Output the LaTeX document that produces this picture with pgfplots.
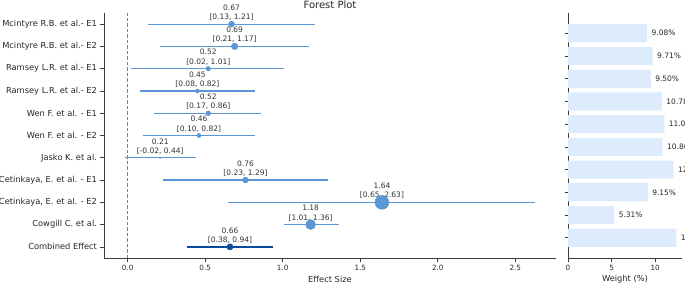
\documentclass[border=0pt]{standalone}
\usepackage{fontspec}
\setmainfont{DejaVu Sans}
\usepackage{pgfplots}
\usepackage{pgfplotstable}
\pgfplotsset{compat=1.18}
\definecolor{cl}{RGB}{91,151,214}
\definecolor{cd}{RGB}{10,74,154}
\definecolor{cb}{RGB}{221,236,252}
\definecolor{sp}{RGB}{60,60,60}

\pgfplotstableread{
y w
9 9.08
8 9.71
7 9.50
6 10.78
5 11.05
4 10.86
3 12.13
2 9.15
1 5.31
0 12.43
}\weights

\newcommand{\lab}[3]{\node[anchor=south, inner sep=0pt, align=center, yshift=3.3pt,
  font=\fontsize{7.5}{9.2}\selectfont, text=black!80] at (axis cs:#1,#2) {#3};}

\begin{document}
\begin{tikzpicture}
\pgfplotsset{
  common/.style={
    scale only axis,
    /pgf/number format/assume math mode=true,
    axis x line*=bottom, axis y line*=left,
    axis line style={sp, line width=0.7pt},
    tick style={sp, line width=0.7pt},
    tick align=outside,
    major tick length=3.5pt,
    xticklabel style={font=\fontsize{7.2}{8}\selectfont, text=black!85},
    yticklabel style={font=\fontsize{8.3}{10}\selectfont, text=black!85},
    every axis x label/.style={at={(axis description cs:0.5,0)}, anchor=center, yshift=-21pt, font=\fontsize{8.3}{10}\selectfont, text=black!85},
    every axis title/.style={at={(axis description cs:0.5,1)}, anchor=base, yshift=4.5pt, font=\fontsize{10}{12}\selectfont, text=black!85},
  }
}
% ---------------- left: forest plot ----------------
\begin{axis}[common,
  at={(0pt,0pt)}, anchor=south west,
  width=452pt, height=245pt,
  xmin=-0.1525, xmax=2.7625, ymin=-0.5, ymax=10.5,
  xtick={0,0.5,1,1.5,2,2.5},
  xticklabel style={/pgf/number format/.cd, fixed, fixed zerofill, precision=1},
  ytick={0,1,2,3,4,5,6,7,8,9,10},
  yticklabels={Combined Effect, Cowgill C. et al., {Cetinkaya, E. et al. - E2}, {Cetinkaya, E. et al. - E1}, Jasko K. et al., Wen F. et al. - E2, Wen F. et al. - E1, Ramsey L.R. et al.- E2, Ramsey L.R. et al.- E1, Mcintyre R.B. et al.- E2, Mcintyre R.B. et al.- E1},
  xlabel={Effect Size},
  title={Forest Plot},
  clip=false,
]
\addplot[gray, line width=0.8pt, dash pattern=on 3.5pt off 2pt] coordinates {(0,-0.5) (0,10.5)};
\addplot[cl, line width=1.2pt] coordinates {(0.13,10) (1.21,10)};
\addplot[cl, line width=1.2pt] coordinates {(0.21,9) (1.17,9)};
\addplot[cl, line width=1.2pt] coordinates {(0.02,8) (1.01,8)};
\addplot[cl, line width=1.2pt] coordinates {(0.08,7) (0.82,7)};
\addplot[cl, line width=1.2pt] coordinates {(0.17,6) (0.86,6)};
\addplot[cl, line width=1.2pt] coordinates {(0.10,5) (0.82,5)};
\addplot[cl, line width=1.2pt] coordinates {(-0.02,4) (0.44,4)};
\addplot[cl, line width=1.2pt] coordinates {(0.23,3) (1.29,3)};
\addplot[cl, line width=1.2pt] coordinates {(0.65,2) (2.63,2)};
\addplot[cl, line width=1.2pt] coordinates {(1.01,1) (1.36,1)};
\addplot[cd, line width=2pt] coordinates {(0.38,0) (0.94,0)};
\lab{0.67}{10}{0.67\\{}[0.13, 1.21]}
\lab{0.69}{9}{0.69\\{}[0.21, 1.17]}
\lab{0.52}{8}{0.52\\{}[0.02, 1.01]}
\lab{0.45}{7}{0.45\\{}[0.08, 0.82]}
\lab{0.52}{6}{0.52\\{}[0.17, 0.86]}
\lab{0.46}{5}{0.46\\{}[0.10, 0.82]}
\lab{0.21}{4}{0.21\\{}[-0.02, 0.44]}
\lab{0.76}{3}{0.76\\{}[0.23, 1.29]}
\lab{1.64}{2}{1.64\\{}[0.65, 2.63]}
\lab{1.18}{1}{1.18\\{}[1.01, 1.36]}
\lab{0.66}{0}{0.66\\{}[0.38, 0.94]}
\end{axis}
% markers on top of the labels
\begin{axis}[
  at={(0pt,0pt)}, anchor=south west, scale only axis,
  width=452pt, height=245pt, hide axis,
  xmin=-0.1525, xmax=2.7625, ymin=-0.5, ymax=10.5, clip=false,
]
\addplot[only marks, mark=*, cl, mark size=3.0pt] coordinates {(0.67,10)};
\addplot[only marks, mark=*, cl, mark size=3.3pt] coordinates {(0.69,9)};
\addplot[only marks, mark=*, cl, mark size=2.3pt] coordinates {(0.52,8)};
\addplot[only marks, mark=*, cl, mark size=2.0pt] coordinates {(0.45,7)};
\addplot[only marks, mark=*, cl, mark size=2.4pt] coordinates {(0.52,6)};
\addplot[only marks, mark=*, cl, mark size=2.1pt] coordinates {(0.46,5)};
\addplot[only marks, mark=*, cl, mark size=0.7pt] coordinates {(0.21,4)};
\addplot[only marks, mark=*, cl, mark size=3.0pt] coordinates {(0.76,3)};
\addplot[only marks, mark=*, cl, mark size=7.0pt] coordinates {(1.64,2)};
\addplot[only marks, mark=*, cl, mark size=5.0pt] coordinates {(1.18,1)};
\addplot[only marks, mark=*, cd, mark size=3.1pt] coordinates {(0.66,0)};
\end{axis}
% ---------------- right: weights ----------------
\begin{axis}[common,
  at={(464pt,0pt)}, anchor=south west,
  width=114pt, height=245pt,
  xmin=0, xmax=13.08, ymin=-0.89, ymax=9.89,
  xtick={0,5,10},
  ytick={0,1,2,3,4,5,6,7,8,9},
  yticklabels={},
  xlabel={Weight (\%)},
  xbar, bar width=0.8,
  clip=false,
  nodes near coords={\pgfmathprintnumber[fixed,fixed zerofill,precision=2]{\pgfplotspointmeta}\%},
  nodes near coords style={anchor=west, inner sep=0pt, xshift=4.3pt, font=\fontsize{7.5}{9}\selectfont, text=black!85, /pgf/number format/assume math mode=true},
  point meta=x,
]
\addplot[fill=cb, draw=none] table[x=w, y=y] {\weights};
\end{axis}
\pgfresetboundingbox
\path (-104pt,-26pt) rectangle (581pt,258pt);
\end{tikzpicture}
\end{document}
